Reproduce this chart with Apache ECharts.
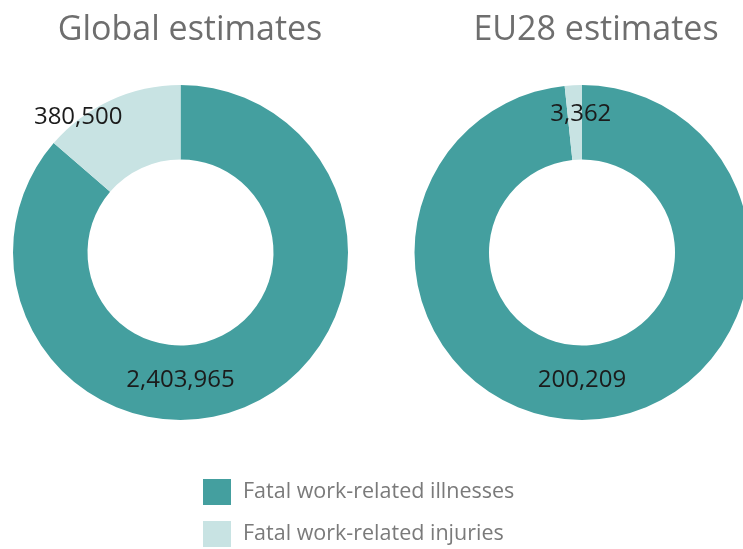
<!DOCTYPE html>
<html>
<head>
<meta charset="utf-8">
<script src="https://cdn.jsdelivr.net/npm/echarts@6/dist/echarts.min.js"></script>
<style>
  html, body { margin: 0; padding: 0; background: #fff; }
  #main { width: 743px; height: 549px; }
</style>
</head>
<body>
<div id="main"></div>
<script>
// fatal work-related deaths, two estimates
var categories = ['Fatal work-related illnesses', 'Fatal work-related injuries'];
var chartTitles = ['Global estimates', 'EU28 estimates'];
var globalValues = [2403965, 380500];
var euValues = [200209, 3362];

var myChart = echarts.init(document.getElementById('main'));

var dark = '#449f9f';
var light = '#c8e3e3';
var centers = [[180.5, 252.5], [582, 252.5]];

// where each label sits: [angle from top (deg, clockwise), distance from centre]
var labelSpots = [
    [[180, 128], [-37, 170]],
    [[180, 128], [-0.5, 138]]
];

function fmt(v) {
    return v.toString().replace(/\B(?=(\d{3})+(?!\d))/g, ',');
}

function makeSeries(idx, values) {
    return {
        name: chartTitles[idx],
        type: 'pie',
        center: centers[idx],
        radius: [93, 167.5],
        startAngle: 90,
        clockwise: true,
        silent: true,
        data: values.map(function (v, i) {
            return {name: categories[i], value: v, itemStyle: {color: i === 0 ? dark : light}};
        }),
        label: {
            show: true,
            position: 'inside',
            formatter: function (p) { return fmt(p.value); },
            color: '#1b1b1b',
            fontFamily: 'Open Sans',
            fontSize: 24
        },
        labelLine: {show: false},
        labelLayout: function (params) {
            var spot = labelSpots[idx][params.dataIndex];
            var a = spot[0] * Math.PI / 180;
            return {
                x: centers[idx][0] + spot[1] * Math.sin(a),
                y: centers[idx][1] - spot[1] * Math.cos(a),
                align: 'center',
                verticalAlign: 'middle'
            };
        }
    };
}

var titleStyle = {color: '#6e6e6e', fontFamily: 'Open Sans', fontSize: 34, fontWeight: 'normal'};

var option = {
    backgroundColor: '#fff',
    animation: false,
    title: [
        {text: chartTitles[0], left: 185, top: 8, textAlign: 'center', textStyle: titleStyle},
        {text: chartTitles[1], left: 591, top: 8, textAlign: 'center', textStyle: titleStyle}
    ],
    legend: {
        data: categories,
        orient: 'vertical',
        left: 203,
        top: 479,
        padding: 0,
        icon: 'rect',
        itemWidth: 28,
        itemHeight: 26,
        itemGap: 16,
        textStyle: {color: '#7a7a7a', fontFamily: 'Open Sans', fontSize: 21.5, padding: [4, 0, 0, 7]}
    },
    series: [makeSeries(0, globalValues), makeSeries(1, euValues)]
};
myChart.setOption(option);
</script>
</body>
</html>
